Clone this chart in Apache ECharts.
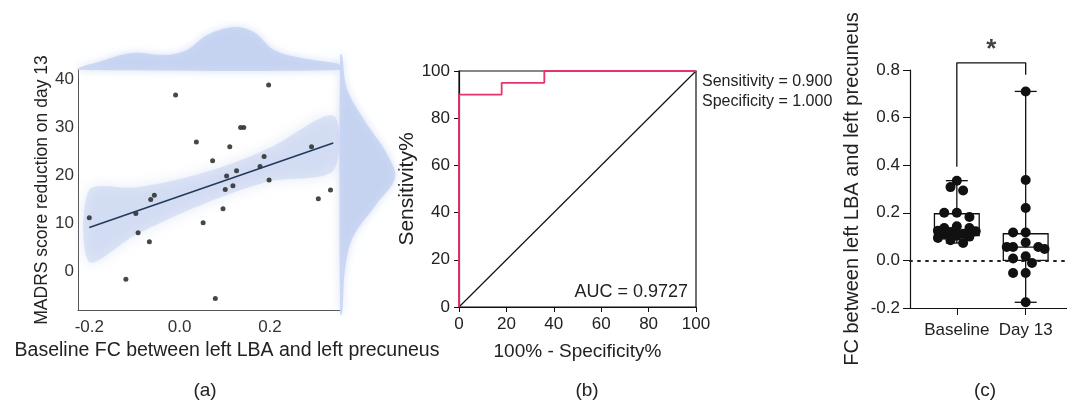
<!DOCTYPE html>
<html>
<head>
<meta charset="utf-8">
<script src="https://cdn.jsdelivr.net/npm/echarts@6/dist/echarts.min.js"></script>
<style>
  html, body { margin: 0; background: #fff; }
  #main { width: 1067px; height: 406px; }
</style>
</head>
<body>
<div id="main"></div>
<script>
  // ---- (a) baseline FC vs MADRS reduction ----
  const fcBaseline = [-0.200, -0.009, 0.197, 0.135, 0.142, 0.037, 0.111, 0.073, 0.187, 0.292, 0.178, 0.126, 0.104,
    0.198, 0.118, 0.101, 0.334, 0.307, -0.056, -0.064, 0.096, -0.097, 0.052, -0.092, -0.067, -0.119, 0.079];
  const madrsReduction = [11.2, 36.8, 38.9, 30.0, 30.0, 27.0, 26.0, 23.1, 24.0, 26.0, 21.9, 21.0, 19.9,
    19.1, 17.9, 17.1, 17.0, 15.2, 15.9, 15.0, 13.1, 12.1, 10.2, 8.1, 6.2, -1.6, -5.6];
  const regX = [-0.20, 0.34];
  const regY = [9.2, 26.8];
  const bandX = [-0.20, -0.10, 0.00, 0.10, 0.20, 0.34];
  const bandLo = [2.0, 7.5, 12.0, 15.8, 18.8, 21.0];
  const bandHi = [17.0, 17.5, 19.3, 22.0, 25.8, 32.5];
  // marginal densities (arbitrary units)
  const topX = [-0.225, -0.18, -0.106, -0.029, 0.016, 0.061, 0.119, 0.164, 0.209, 0.27, 0.344, 0.355];
  const topD = [2, 8, 17, 15, 20, 35, 43, 38, 20, 12, 7, 5];
  const rightY = [45.2, 38.1, 31.3, 24.5, 19.6, 14.2, 7.2, 0.4, -6.4, -8.9];
  const rightD = [2, 7, 25, 47, 55, 37, 13, 5, 3, 2];

  // ---- (b) ROC ----
  const rocX = [0, 0, 18, 18, 36, 36, 100];
  const rocY = [0, 90, 90, 95, 95, 100, 100];
  const refX = [0, 100];
  const refY = [0, 100];

  // ---- (c) box plot ----
  const groups = ['Baseline', 'Day 13'];
  const baselineFC = [0.335, 0.308, 0.294, 0.200, 0.200, 0.182, 0.143, 0.136, 0.136, 0.125, 0.122, 0.119,
    0.112, 0.108, 0.104, 0.100, 0.094, 0.085, 0.073];
  const day13FC = [0.710, 0.338, 0.220, 0.117, 0.117, 0.075, 0.056, 0.056, 0.056, 0.048, 0.017, 0.008,
    -0.011, -0.053, -0.053, -0.176];
  const boxMin = [0.073, -0.176];
  const boxQ1 = [0.104, 0.000];
  const boxMed = [0.125, 0.056];
  const boxQ3 = [0.196, 0.112];
  const boxMax = [0.335, 0.710];
  const sigY = 0.83;
  const sigLegs = [0.394, 0.78];

  const FONT = "'Liberation Sans', Arial, sans-serif";
  const TXT = '#222';

  function polygonSeries(xi, yi, pts, style, smooth) {
    return {
      type: 'custom', xAxisIndex: xi, yAxisIndex: yi, silent: true, clip: false, z: 1,
      data: pts,
      renderItem: function (params, api) {
        if (params.dataIndex !== 0) return null;
        return { type: 'polygon', shape: { points: pts.map(p => api.coord(p)), smooth: smooth || 0 }, style: style };
      }
    };
  }

  const bandPts = bandX.map((x, i) => [x, bandHi[i]]).concat(bandX.map((x, i) => [x, bandLo[i]]).reverse());
  const topPts = [[topX[0], 0]].concat(topX.map((x, i) => [x, topD[i]]), [[topX[topX.length - 1], 0]]);
  const rightPts = [[0, rightY[0]]].concat(rightY.map((y, i) => [rightD[i], y]), [[0, rightY[rightY.length - 1]]]);
  const densStyle = { fill: 'rgba(190,205,240,0.7)', shadowBlur: 8, shadowColor: 'rgba(190,205,240,0.9)' };

  // small beeswarm: dots may overlap, kept within +-3 steps of the group centre
  const C_XMIN = 0.32, C_XMAX = 2.6, C_W = 157, C_H = 238;
  function swarm(vals, center) {
    const pxX = C_W / (C_XMAX - C_XMIN), pxY = C_H / 1.0;
    const step = 6.3 / pxX;
    const placed = [], out = [];
    const cands = [0, -1, 1, -2, 2, -3, 3].map(k => k * step);
    vals.slice().sort((a, b) => b - a).forEach(v => {
      let best = null, bestD = -1;
      for (const dx of cands) {
        const d = placed.reduce((m, p) => Math.min(m, Math.hypot((p[0] - dx) * pxX, (p[1] - v) * pxY)), 1e9);
        if (d >= 8) { best = dx; break; }
        if (d > bestD) { bestD = d; best = dx; }
      }
      placed.push([best, v]);
      out.push([center + best, v]);
    });
    return out;
  }

  const boxData = groups.map((g, i) => [i + 1, boxMin[i], boxQ1[i], boxMed[i], boxQ3[i], boxMax[i]]);

  const chart = echarts.init(document.getElementById('main'));
  chart.setOption({
    animation: false,
    backgroundColor: '#fff',
    textStyle: { fontFamily: FONT },
    grid: [
      { left: 78, top: 70, width: 262, height: 240 },
      { left: 78, top: 20, width: 262, height: 50 },
      { left: 340, top: 70, width: 60, height: 240 },
      { left: 459, top: 71, width: 237, height: 236, show: true, borderColor: '#111', borderWidth: 1.2 },
      { left: 910, top: 70, width: C_W, height: C_H }
    ],
    xAxis: [
      {
        gridIndex: 0, type: 'value', min: -0.225, max: 0.355, splitLine: { show: false },
        axisLine: { onZero: false, lineStyle: { color: '#555' } }, axisTick: { show: false },
        axisLabel: { customValues: [-0.2, 0, 0.2], formatter: v => v.toFixed(1), fontSize: 17, color: '#333', margin: 9 },
        name: 'Baseline FC between left LBA and left precuneus', nameLocation: 'middle', nameGap: 30,
        nameTextStyle: { fontSize: 19.5, color: TXT, padding: [0, 0, 0, 36] }
      },
      { gridIndex: 1, type: 'value', min: -0.225, max: 0.355, show: false },
      { gridIndex: 2, type: 'value', min: 0, max: 60, show: false },
      {
        gridIndex: 3, type: 'value', min: 0, max: 100, interval: 20, splitLine: { show: false },
        axisLine: { onZero: false, lineStyle: { color: '#111', width: 1.2 } },
        axisTick: { length: 5, lineStyle: { color: '#111' } },
        axisLabel: { fontSize: 17, color: TXT, margin: 9 },
        name: '100% - Specificity%', nameLocation: 'middle', nameGap: 35,
        nameTextStyle: { fontSize: 19, color: TXT }
      },
      {
        gridIndex: 4, type: 'value', min: C_XMIN, max: C_XMAX, splitLine: { show: false },
        axisLine: { onZero: false, lineStyle: { color: '#111', width: 1.2 } },
        axisTick: { customValues: [1, 2], length: 7, lineStyle: { color: '#111' } },
        axisLabel: { customValues: [1, 2], formatter: v => groups[Math.round(v) - 1], fontSize: 17, color: TXT, margin: 14 }
      }
    ],
    yAxis: [
      {
        gridIndex: 0, type: 'value', min: -8, max: 42, splitLine: { show: false },
        axisLine: { show: true, onZero: false, lineStyle: { color: '#555' } }, axisTick: { show: false },
        axisLabel: { customValues: [0, 10, 20, 30, 40], fontSize: 17, color: '#333', margin: 4 },
        name: 'MADRS score reduction on day 13', nameLocation: 'middle', nameRotate: 90, nameGap: 21,
        nameTextStyle: { fontSize: 17.5, color: TXT }
      },
      { gridIndex: 1, type: 'value', min: 0, max: 50, show: false },
      { gridIndex: 2, type: 'value', min: -8, max: 42, show: false },
      {
        gridIndex: 3, type: 'value', min: 0, max: 100, interval: 20, splitLine: { show: false },
        axisLine: { show: true, onZero: false, lineStyle: { color: '#111', width: 1.2 } },
        axisTick: { show: true, length: 5, lineStyle: { color: '#111' } },
        axisLabel: { fontSize: 17, color: TXT, margin: 9 },
        name: 'Sensitivity%', nameLocation: 'middle', nameRotate: 90, nameGap: 38,
        nameTextStyle: { fontSize: 21, color: TXT }
      },
      {
        gridIndex: 4, type: 'value', min: -0.2, max: 0.8, interval: 0.2, splitLine: { show: false },
        axisLine: { show: true, onZero: false, lineStyle: { color: '#111', width: 1.2 } },
        axisTick: { show: true, length: 7, lineStyle: { color: '#111' } },
        axisLabel: { formatter: v => v.toFixed(1), fontSize: 17, color: TXT, margin: 10 },
        name: 'FC between left LBA and left precuneus', nameLocation: 'middle', nameRotate: 90, nameGap: 48,
        nameTextStyle: { fontSize: 20, color: TXT }
      }
    ],
    graphic: [
      { type: 'text', x: 688, y: 292, style: { text: 'AUC = 0.9727', font: '18px ' + FONT, fill: TXT, align: 'right', verticalAlign: 'middle' } },
      { type: 'text', x: 702, y: 82, style: { text: 'Sensitivity = 0.900', font: '16px ' + FONT, fill: TXT, align: 'left', verticalAlign: 'middle' } },
      { type: 'text', x: 702, y: 102, style: { text: 'Specificity = 1.000', font: '16px ' + FONT, fill: TXT, align: 'left', verticalAlign: 'middle' } },
      { type: 'text', x: 205, y: 391, style: { text: '(a)', font: '19px ' + FONT, fill: TXT, align: 'center', verticalAlign: 'middle' } },
      { type: 'text', x: 587, y: 391, style: { text: '(b)', font: '19px ' + FONT, fill: TXT, align: 'center', verticalAlign: 'middle' } },
      { type: 'text', x: 985, y: 391, style: { text: '(c)', font: '19px ' + FONT, fill: TXT, align: 'center', verticalAlign: 'middle' } }
    ],
    series: [
      // (a)
      polygonSeries(0, 0, bandPts, { fill: 'rgba(185,200,235,0.42)', shadowBlur: 14, shadowColor: 'rgba(185,200,235,0.9)' }, 0.3),
      polygonSeries(1, 1, topPts, densStyle, 0.35),
      polygonSeries(2, 2, rightPts, densStyle, 0.35),
      {
        type: 'scatter', xAxisIndex: 0, yAxisIndex: 0, symbolSize: 5, z: 3,
        itemStyle: { color: '#333', opacity: 0.9 },
        data: fcBaseline.map((x, i) => [x, madrsReduction[i]])
      },
      {
        type: 'line', xAxisIndex: 0, yAxisIndex: 0, symbol: 'none', z: 4,
        lineStyle: { color: '#23395b', width: 1.5 },
        data: regX.map((x, i) => [x, regY[i]])
      },
      // (b)
      {
        type: 'line', xAxisIndex: 3, yAxisIndex: 3, symbol: 'none', z: 3,
        lineStyle: { color: '#111', width: 1.2 },
        data: refX.map((x, i) => [x, refY[i]])
      },
      {
        type: 'line', xAxisIndex: 3, yAxisIndex: 3, symbol: 'none', z: 4, clip: false,
        lineStyle: { color: '#e8336a', width: 1.8 },
        data: rocX.map((x, i) => [x, rocY[i]])
      },
      // (c)
      {
        type: 'custom', xAxisIndex: 4, yAxisIndex: 4, silent: true, z: 3,
        data: boxData,
        renderItem: function (params, api) {
          const x = api.value(0);
          const lo = api.value(1), q1 = api.value(2), med = api.value(3), q3 = api.value(4), hi = api.value(5);
          const c = v => api.coord([x, v]);
          const hw = api.size([0.325, 0])[0];
          const cw = api.size([0.16, 0])[0];
          const st = { stroke: '#111', lineWidth: 1.3, fill: null };
          const t = c(q3), b = c(q1), m = c(med), h = c(hi), l = c(lo);
          return {
            type: 'group', children: [
              { type: 'rect', shape: { x: t[0] - hw, y: t[1], width: 2 * hw, height: b[1] - t[1] }, style: st },
              { type: 'line', shape: { x1: m[0] - hw, y1: m[1], x2: m[0] + hw, y2: m[1] }, style: st },
              { type: 'line', shape: { x1: t[0], y1: t[1], x2: h[0], y2: h[1] }, style: st },
              { type: 'line', shape: { x1: b[0], y1: b[1], x2: l[0], y2: l[1] }, style: st },
              { type: 'line', shape: { x1: h[0] - cw, y1: h[1], x2: h[0] + cw, y2: h[1] }, style: st },
              { type: 'line', shape: { x1: l[0] - cw, y1: l[1], x2: l[0] + cw, y2: l[1] }, style: st }
            ]
          };
        },
        markLine: {
          silent: true, symbol: 'none', label: { show: false },
          lineStyle: { color: '#222', type: [2, 6], width: 2, cap: 'round' },
          data: [{ yAxis: 0 }]
        }
      },
      {
        type: 'scatter', xAxisIndex: 4, yAxisIndex: 4, symbolSize: 10, z: 5, clip: false,
        itemStyle: { color: '#111', opacity: 1 },
        data: swarm(baselineFC, 1).concat(swarm(day13FC, 2))
      },
      {
        type: 'line', xAxisIndex: 4, yAxisIndex: 4, symbol: 'none', clip: false, z: 4,
        lineStyle: { color: '#111', width: 1.3 },
        data: [[1, sigLegs[0]], [1, sigY], [2, sigY], [2, sigLegs[1]]]
      },
      {
        type: 'scatter', xAxisIndex: 4, yAxisIndex: 4, symbolSize: 0, clip: false, z: 4,
        label: { show: true, formatter: '*', position: 'top', distance: 0, fontSize: 26, fontWeight: 'bold', color: '#111' },
        data: [[1.5, sigY]]
      }
    ]
  });
</script>
</body>
</html>
